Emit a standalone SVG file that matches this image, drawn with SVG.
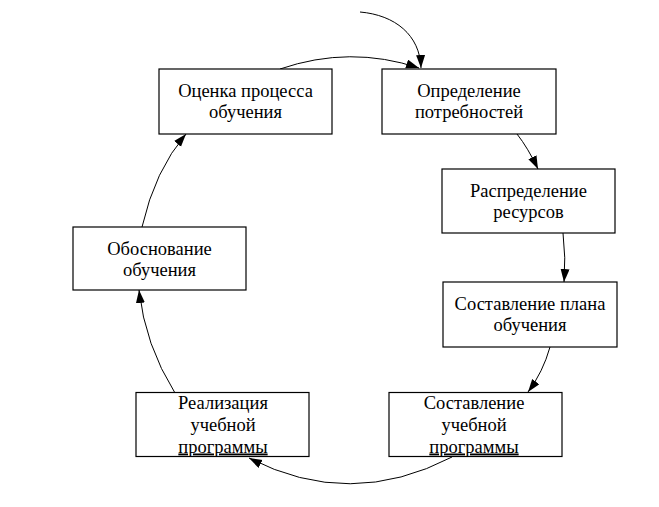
<svg xmlns="http://www.w3.org/2000/svg" width="659" height="507" viewBox="0 0 659 507">
<defs>
<style>
.box{fill:#fff;stroke:#000;stroke-width:1.2}
.t{font-family:"Liberation Serif","Times New Roman",serif;font-size:18.5px;fill:#000;text-anchor:middle}
.u{text-decoration:underline}
.c{fill:none;stroke:#000;stroke-width:1;marker-end:url(#ah)}
</style>
<marker id="ah" markerUnits="userSpaceOnUse" markerWidth="14" markerHeight="10" refX="13" refY="4.5" orient="auto">
<path d="M0,0 L13,4.5 L0,9 z" fill="#000"/>
</marker>
</defs>
<rect width="659" height="507" fill="#fff"/>
<g id="connectors">
<path class="c" d="M360,12 C395,15 420,35 421,68"/>
<path class="c" d="M280,69 Q350,45 419,68"/>
<path class="c" d="M517,134 Q528,148 538,169"/>
<path class="c" d="M563,233 Q566,258 564,282"/>
<path class="c" d="M550,347 Q543,372 528,392"/>
<path class="c" d="M452,457 Q350,510 249,458"/>
<path class="c" d="M175,393 Q145,345 139,290"/>
<path class="c" d="M142,227 Q155,170 186,134"/>
</g>
<g id="n1"><rect class="box" x="159" y="69" width="173" height="65"/><text class="t" x="245.5" y="97.3">Оценка процесса</text><text class="t" x="245.5" y="118.3">обучения</text></g>
<g id="n2"><rect class="box" x="382" y="69" width="174" height="65"/><text class="t" x="469" y="97.3">Определение</text><text class="t" x="469" y="118.3">потребностей</text></g>
<g id="n3"><rect class="box" x="442" y="169" width="173" height="64"/><text class="t" x="528.5" y="197">Распределение</text><text class="t" x="528.5" y="218">ресурсов</text></g>
<g id="n4"><rect class="box" x="443" y="282" width="174" height="65"/><text class="t" x="530" y="310">Составление плана</text><text class="t" x="530" y="331">обучения</text></g>
<g id="n5"><rect class="box" x="389" y="392.5" width="173" height="64"/><text class="t" x="474" y="408.5">Составление</text><text class="t" x="474" y="430.5">учебной</text><text class="t u" x="474" y="452.5">программы</text></g>
<g id="n6"><rect class="box" x="136" y="392.5" width="173" height="64"/><text class="t" x="223" y="408.5">Реализация</text><text class="t" x="223" y="430.5">учебной</text><text class="t u" x="223" y="452.5">программы</text></g>
<g id="n7"><rect class="box" x="73" y="227" width="173" height="63"/><text class="t" x="159.5" y="255">Обоснование</text><text class="t" x="159.5" y="276">обучения</text></g>
</svg>
